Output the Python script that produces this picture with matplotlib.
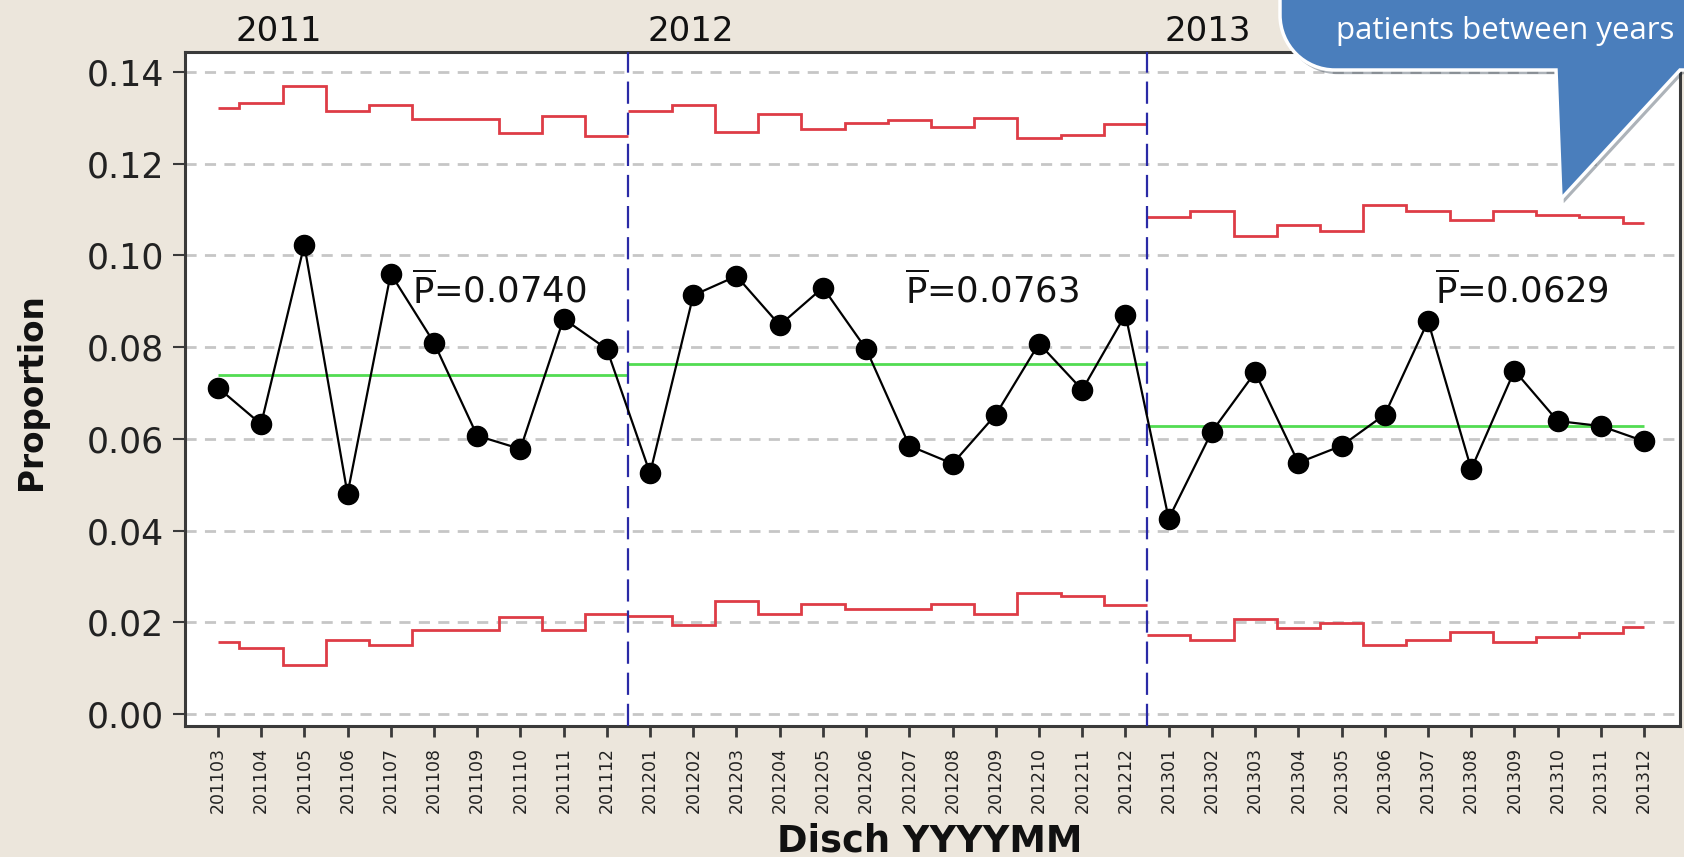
import matplotlib
matplotlib.use("Agg")
import matplotlib.pyplot as plt
import matplotlib.transforms as mtransforms
import matplotlib.patheffects as pe
from matplotlib.path import Path
from matplotlib.patches import PathPatch
import numpy as np

# ---------------- data ----------------
months = ["201103", "201104", "201105", "201106", "201107", "201108", "201109", "201110",
          "201111", "201112",
          "201201", "201202", "201203", "201204", "201205", "201206", "201207", "201208",
          "201209", "201210", "201211", "201212",
          "201301", "201302", "201303", "201304", "201305", "201306", "201307", "201308",
          "201309", "201310", "201311", "201312"]

proportion = [0.0712, 0.0632, 0.1023, 0.0480, 0.0960, 0.0810, 0.0607, 0.0578, 0.0862, 0.0796,
              0.0525, 0.0913, 0.0955, 0.0848, 0.0930, 0.0796, 0.0585, 0.0546, 0.0653, 0.0808,
              0.0707, 0.0871,
              0.0426, 0.0616, 0.0745, 0.0548, 0.0585, 0.0653, 0.0857, 0.0534, 0.0749, 0.0639,
              0.0628, 0.0595]

ucl = [0.1321, 0.1333, 0.1370, 0.1316, 0.1328, 0.1297, 0.1297, 0.1267, 0.1304, 0.1260,
       0.1314, 0.1328, 0.1269, 0.1309, 0.1276, 0.1288, 0.1295, 0.1279, 0.1300, 0.1255,
       0.1262, 0.1286,
       0.1084, 0.1096, 0.1042, 0.1066, 0.1054, 0.1110, 0.1096, 0.1077, 0.1096, 0.1089,
       0.1084, 0.1070]

lcl = [0.0157, 0.0145, 0.0108, 0.0162, 0.0150, 0.0183, 0.0183, 0.0211, 0.0183, 0.0218,
       0.0213, 0.0194, 0.0246, 0.0218, 0.0241, 0.0230, 0.0230, 0.0241, 0.0218, 0.0265,
       0.0258, 0.0237,
       0.0173, 0.0162, 0.0208, 0.0187, 0.0199, 0.0150, 0.0162, 0.0180, 0.0157, 0.0169,
       0.0176, 0.0190]

years = ["2011", "2012", "2013"]
group_sizes = [10, 12, 12]
center_p = [0.0740, 0.0763, 0.0629]

y_ticks = [0.00, 0.02, 0.04, 0.06, 0.08, 0.10, 0.12, 0.14]
callout_text = "patients between years"

# ---------------- style ----------------
W, H = 1684, 857
BG = "#ECE6DC"
RED = "#DE3C46"
GREEN = "#52DC52"
BLUE = "#2A2AA6"
GRID = "#C6C6C6"
BUBBLE = "#4A7EBC"
FRAME = "#3A3A3A"

fig = plt.figure(figsize=(W / 100, H / 100), dpi=100, facecolor=BG)
ax = fig.add_axes([185 / W, 1 - 726 / H, (1680 - 185) / W, (726 - 52) / H])
ax.set_facecolor("white")

n = len(months)
x = np.arange(n)

# grid
for yt in y_ticks:
    ax.axhline(yt, color=GRID, lw=2.0, ls=(0, (4, 3)), zorder=1)

# groups
starts = np.cumsum([0] + group_sizes[:-1])
for g, (a, size) in enumerate(zip(starts, group_sizes)):
    b = a + size - 1
    left = a - 0.5 if a > 0 else a
    right = b + 0.5 if b < n - 1 else b
    edges = np.concatenate([[left], np.arange(a, b) + 0.5, [right]])
    ax.stairs(ucl[a:b + 1], edges, baseline=None, color=RED, lw=2.0, zorder=3)
    ax.stairs(lcl[a:b + 1], edges, baseline=None, color=RED, lw=2.0, zorder=3)
    ax.hlines(center_p[g], left, right, color=GREEN, lw=2.0, zorder=3)

# year boundaries
for a in starts[1:]:
    ax.axvline(a - 0.5, color=BLUE, lw=1.6, ls=(0, (10, 4)), zorder=4)

# data
ax.plot(x, proportion, color="black", lw=1.6, marker="o", ms=14.5, zorder=5)

# P-bar labels
pbar_x = [4.5, 15.9, 28.15]
pbar_y = [0.0925, 0.0925, 0.0925]
for px_, py_, c in zip(pbar_x, pbar_y, center_p):
    ax.text(px_, py_, r"$\overline{\mathrm{P}}$" + f"={c:.4f}", fontsize=25.5,
            va="center", ha="left", color="#111111", zorder=6)

# year labels above plot
trans = mtransforms.blended_transform_factory(ax.transData, ax.transAxes)
year_x = [1.41, 10.94, 22.9]
for yx, yr in zip(year_x, years):
    ax.text(yx, 1.03, yr, transform=trans, fontsize=24.5, ha="center", va="center",
            color="#111111", clip_on=False)

# axes
ax.set_xlim(-0.76, 33.83)
ax.set_ylim(-0.0026, 0.14436)
ax.set_yticks(y_ticks)
ax.set_yticklabels([f"{v:.2f}" for v in y_ticks], fontsize=25, color="#222222")
ax.set_xticks(x)
ax.set_xticklabels(months, rotation=90, fontsize=12.5, color="#222222")
ax.tick_params(axis="y", length=9, width=1.5, pad=6, color=FRAME)
ax.tick_params(axis="x", length=8, width=2, pad=7, color=FRAME)
for s in ax.spines.values():
    s.set_color(FRAME)
    s.set_linewidth(2.2)

fig.text(32 / W, 1 - 392 / H, "Proportion", rotation=90, fontsize=23.5, fontweight="bold",
         ha="center", va="center", color="#111111")
fig.text(930 / W, 1 - 841 / H, "Disch YYYYMM", fontsize=26.5, fontweight="bold",
         ha="center", va="center", color="#111111")

# callout bubble (figure pixel coordinates, y measured from top)
def P(px, py):
    return (px / 100.0, (H - py) / 100.0)

r = 55
verts = [P(1710, -20), P(1280, -20), P(1280, 70 - r),
         P(1280, 70 - r + 0.552 * r), P(1280 + r - 0.552 * r, 70), P(1280 + r, 70),
         P(1556, 70), P(1561, 199), P(1680, 70), P(1710, 70), P(1710, -20)]
codes = [Path.MOVETO, Path.LINETO, Path.LINETO,
         Path.CURVE4, Path.CURVE4, Path.CURVE4,
         Path.LINETO, Path.LINETO, Path.LINETO, Path.LINETO, Path.CLOSEPOLY]
bubble = PathPatch(Path(verts, codes), transform=fig.dpi_scale_trans, facecolor=BUBBLE,
                   edgecolor="white", lw=2.5, zorder=10,
                   path_effects=[pe.SimplePatchShadow(offset=(2, -3), alpha=0.35),
                                 pe.Normal()])
fig.add_artist(bubble)
fig.text(1336 / W, 1 - 31 / H, callout_text, fontsize=22.5, family="Open Sans",
         color="white", ha="left", va="center", zorder=11)

fig.savefig("out.png", dpi=100, facecolor=BG)
